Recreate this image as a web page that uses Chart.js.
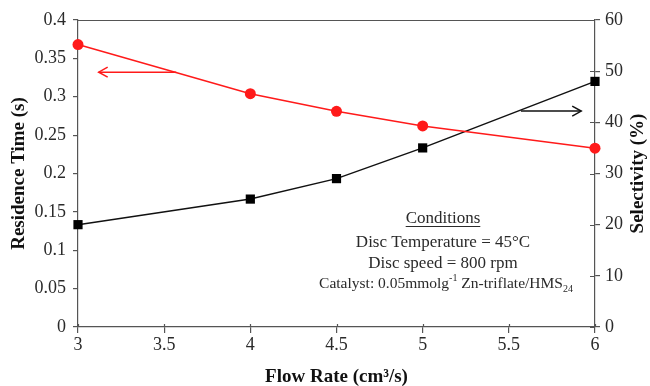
<!DOCTYPE html>
<html>
<head>
<meta charset="utf-8">
<script src="https://cdn.jsdelivr.net/npm/chart.js@4/dist/chart.umd.min.js"></script>
<style>
  html, body { margin: 0; padding: 0; background: #fff; }
  #wrap { width: 650px; height: 386px; position: relative; }
</style>
</head>
<body>
<div id="wrap"><canvas id="c" width="650" height="386"></canvas></div>
<script>
// Flow rate (cm3/s) for each measurement
const flowRate = [3, 4, 4.5, 5, 6];
// Residence time (s), left axis
const residenceTime = [0.368, 0.304, 0.281, 0.262, 0.233];
// Selectivity (%), right axis
const selectivity = [20, 25, 29, 35, 48];

// Axis ranges and tick steps
const xRange = [3, 6, 0.5];
const leftRange = [0, 0.4, 0.05];
const rightRange = [0, 60, 10];

// Arrows pointing each curve to its axis: [xFrom, xTo, y]
const residenceArrow = [3.57, 3.12, 0.332];
const selectivityArrow = [5.57, 5.92, 42.2];

const conditionLines = [
  'Conditions',
  'Disc Temperature = 45°C',
  'Disc speed = 800 rpm'
];
const rightTitle = 'Selectivity (%)';

const SERIF = '"Liberation Serif", "Times New Roman", serif';
const INK = '#2a2a2a';

function plainNumber(v) {
  return String(Math.round(v * 1000) / 1000);
}

function drawArrow(ctx, x1, y1, x2, y2, color) {
  ctx.save();
  ctx.strokeStyle = color;
  ctx.lineWidth = 1.5;
  ctx.beginPath();
  ctx.moveTo(x1, y1);
  ctx.lineTo(x2, y2);
  ctx.stroke();
  const dir = Math.sign(x2 - x1);
  ctx.beginPath();
  ctx.moveTo(x2 - dir * 9, y2 - 5);
  ctx.lineTo(x2, y2);
  ctx.lineTo(x2 - dir * 9, y2 + 5);
  ctx.stroke();
  ctx.restore();
}

const decorations = {
  id: 'decorations',
  afterDraw(chart) {
    const { ctx, chartArea: a, scales } = chart;
    const x = scales.x, yl = scales.yLeft, yr = scales.yRight;
    ctx.save();
    // top frame line
    ctx.strokeStyle = '#555';
    ctx.lineWidth = 1.2;
    ctx.beginPath();
    ctx.moveTo(a.left, a.top + 0.5);
    ctx.lineTo(a.right, a.top + 0.5);
    ctx.stroke();
    // inner half of the right-axis ticks
    ctx.beginPath();
    for (let v = rightRange[0]; v <= rightRange[1]; v += rightRange[2]) {
      const py = Math.round(yr.getPixelForValue(v)) + 0.5;
      ctx.moveTo(a.right - 5, py);
      ctx.lineTo(a.right, py);
    }
    // inner half of the x ticks
    for (let v = xRange[0]; v <= xRange[1] + 1e-9; v += xRange[2]) {
      const px = Math.round(x.getPixelForValue(v)) + 0.5;
      ctx.moveTo(px, a.bottom - 3);
      ctx.lineTo(px, a.bottom);
    }
    ctx.stroke();
    ctx.restore();

    // right axis title, reading bottom to top
    ctx.save();
    ctx.translate(638, (a.top + a.bottom) / 2);
    ctx.rotate(-Math.PI / 2);
    ctx.fillStyle = '#111';
    ctx.font = 'bold 19px ' + SERIF;
    ctx.textAlign = 'center';
    ctx.textBaseline = 'middle';
    ctx.fillText(rightTitle, 0, 0);
    ctx.restore();

    drawArrow(ctx,
      x.getPixelForValue(residenceArrow[0]), yl.getPixelForValue(residenceArrow[2]),
      x.getPixelForValue(residenceArrow[1]), yl.getPixelForValue(residenceArrow[2]), '#ff1a1a');
    drawArrow(ctx,
      x.getPixelForValue(selectivityArrow[0]), yr.getPixelForValue(selectivityArrow[2]),
      x.getPixelForValue(selectivityArrow[1]), yr.getPixelForValue(selectivityArrow[2]), '#111');

    // conditions note
    ctx.save();
    ctx.fillStyle = INK;
    ctx.textAlign = 'center';
    ctx.textBaseline = 'alphabetic';
    ctx.font = '17px ' + SERIF;
    const cx = 443;
    const ys = [223, 247, 268];
    conditionLines.forEach((t, i) => ctx.fillText(t, cx, ys[i]));
    const w0 = ctx.measureText(conditionLines[0]).width;
    ctx.strokeStyle = INK;
    ctx.lineWidth = 1;
    ctx.beginPath();
    ctx.moveTo(cx - w0 / 2, 226.5);
    ctx.lineTo(cx + w0 / 2, 226.5);
    ctx.stroke();
    // catalyst line with superscript and subscript
    const parts = [
      ['Catalyst: 0.05mmolg', 15.5, 0],
      ['-1', 10, -7],
      [' Zn-triflate/HMS', 15.5, 0],
      ['24', 10, 4]
    ];
    let total = 0;
    parts.forEach(p => { ctx.font = p[1] + 'px ' + SERIF; total += ctx.measureText(p[0]).width; });
    let px = cx + 3 - total / 2;
    ctx.textAlign = 'left';
    parts.forEach(p => {
      ctx.font = p[1] + 'px ' + SERIF;
      ctx.fillText(p[0], px, 288 + p[2]);
      px += ctx.measureText(p[0]).width;
    });
    ctx.restore();
  }
};

new Chart(document.getElementById('c'), {
  type: 'line',
  data: {
    datasets: [
      {
        label: 'Residence Time',
        data: flowRate.map((f, i) => ({ x: f, y: residenceTime[i] })),
        yAxisID: 'yLeft',
        borderColor: '#ff1a1a',
        backgroundColor: '#ff1a1a',
        borderWidth: 1.5,
        pointStyle: 'circle',
        pointRadius: 5.5,
        pointBorderWidth: 0,
        tension: 0,
        clip: false
      },
      {
        label: 'Selectivity',
        data: flowRate.map((f, i) => ({ x: f, y: selectivity[i] })),
        yAxisID: 'yRight',
        borderColor: '#111',
        backgroundColor: '#000',
        borderWidth: 1.5,
        pointStyle: 'rect',
        pointRadius: 6.5,
        pointBorderWidth: 0,
        tension: 0,
        clip: false
      }
    ]
  },
  options: {
    responsive: false,
    animation: false,
    devicePixelRatio: 1,
    layout: { padding: { top: 20, left: 0, right: 0, bottom: 0 } },
    plugins: { legend: { display: false }, tooltip: { enabled: false } },
    elements: { point: { hoverRadius: 5.5 } },
    scales: {
      x: {
        type: 'linear',
        min: xRange[0], max: xRange[1],
        afterFit(s) { s.height = 59; },
        ticks: { stepSize: xRange[2], callback: plainNumber, color: INK, font: { family: SERIF, size: 18 }, padding: 1, maxRotation: 0 },
        grid: { drawOnChartArea: false, drawTicks: true, tickLength: 6, color: '#555', lineWidth: 1.2 },
        border: { display: true, color: '#555', width: 1.2 },
        title: {
          display: true,
          text: 'Flow Rate (cm³/s)',
          color: '#111',
          font: { family: SERIF, size: 19, weight: 'bold' },
          padding: { top: 0, bottom: -2 }
        }
      },
      yLeft: {
        type: 'linear',
        position: 'left',
        min: leftRange[0], max: leftRange[1],
        afterFit(s) { s.width = 78; },
        ticks: { stepSize: leftRange[2], callback: plainNumber, color: INK, font: { family: SERIF, size: 18 }, padding: 7 },
        grid: { drawOnChartArea: false, drawTicks: true, tickLength: 5, color: '#555', lineWidth: 1.2 },
        border: { display: true, color: '#555', width: 1.2 },
        title: {
          display: true,
          text: 'Residence Time (s)',
          color: '#111',
          font: { family: SERIF, size: 19, weight: 'bold' },
          padding: { top: 8, bottom: 0 }
        }
      },
      yRight: {
        type: 'linear',
        position: 'right',
        min: rightRange[0], max: rightRange[1],
        afterFit(s) { s.width = 55; },
        ticks: { stepSize: rightRange[2], callback: plainNumber, color: INK, font: { family: SERIF, size: 18 }, padding: 5 },
        grid: { drawOnChartArea: false, drawTicks: true, tickLength: 5, color: '#555', lineWidth: 1.2 },
        border: { display: true, color: '#555', width: 1.2 },
        title: { display: false }
      }
    }
  },
  plugins: [decorations]
});
</script>
</body>
</html>
